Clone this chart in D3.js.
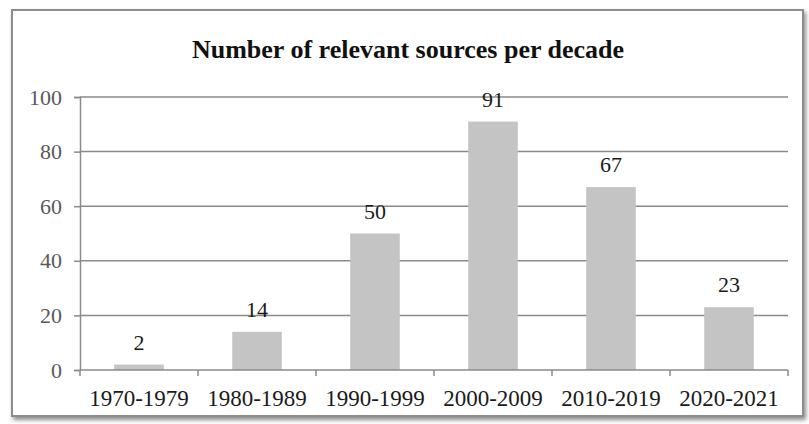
<!DOCTYPE html>
<html>
<head>
<meta charset="utf-8">
<script src="https://cdn.jsdelivr.net/npm/d3@7"></script>
<style>
  body { margin: 0; background: #fff; }
  svg { display: block; font-family: "Liberation Serif", "Times New Roman", serif; }
</style>
</head>
<body>
<svg id="chart" width="809" height="424"></svg>
<script>
// data
const decades = ['1970-1979', '1980-1989', '1990-1999', '2000-2009', '2010-2019', '2020-2021'];
const sources = [2, 14, 50, 91, 67, 23];
const yTicks = [0, 20, 40, 60, 80, 100];

const svg = d3.select('#chart');

// frame with a soft shadow at bottom/right
const defs = svg.append('defs');
const f = defs.append('filter').attr('id', 'shadow').attr('x', '-5%').attr('y', '-5%').attr('width', '110%').attr('height', '115%');
f.append('feDropShadow').attr('dx', 2).attr('dy', 3).attr('stdDeviation', 2).attr('flood-color', '#000').attr('flood-opacity', 0.45);

svg.append('rect')
    .attr('x', 12).attr('y', 10).attr('width', 791).attr('height', 406)
    .attr('fill', '#fff').attr('stroke', '#8c8c8c').attr('stroke-width', 2)
    .attr('filter', 'url(#shadow)');

const pLeft = 80, pRight = 788, pTop = 97, pBottom = 370;

const x = d3.scaleBand().domain(decades).range([pLeft, pRight]).paddingInner(0.58).paddingOuter(0.29);
const y = d3.scaleLinear().domain([0, 100]).range([pBottom, pTop]);

// gridlines
svg.append('g')
    .selectAll('line')
    .data(yTicks.filter(d => d > 0))
    .enter()
    .append('line')
    .attr('x1', pLeft).attr('x2', pRight)
    .attr('y1', d => y(d)).attr('y2', d => y(d))
    .attr('stroke', '#8a8a8a').attr('stroke-width', 1.5);

// y axis
const yAxis = svg.append('g')
    .attr('transform', `translate(${pLeft},0)`)
    .call(d3.axisLeft(y).tickValues(yTicks).tickSize(6).tickPadding(12));
yAxis.select('.domain').attr('stroke', '#8a8a8a').attr('stroke-width', 1.5);
yAxis.selectAll('.tick line').attr('stroke', '#8a8a8a').attr('stroke-width', 1.5);
yAxis.selectAll('text').attr('fill', '#595959').attr('font-size', 22).attr('font-family', '"Liberation Serif", serif');

// bars
svg.append('g')
    .selectAll('rect')
    .data(decades)
    .enter()
    .append('rect')
    .attr('x', d => x(d))
    .attr('width', x.bandwidth())
    .attr('y', (d, i) => y(sources[i]))
    .attr('height', (d, i) => y(0) - y(sources[i]))
    .attr('fill', '#c4c4c4');

// x axis, ticks between categories
const xb = d3.scaleLinear().domain([0, decades.length]).range([pLeft, pRight]);
const xAxis = svg.append('g').attr('transform', `translate(0,${pBottom})`);
xAxis.append('line').attr('x1', pLeft).attr('x2', pRight)
    .attr('stroke', '#8a8a8a').attr('stroke-width', 1.5);
xAxis.selectAll('line.tk')
    .data(d3.range(decades.length + 1))
    .enter()
    .append('line').attr('class', 'tk')
    .attr('x1', d => xb(d)).attr('x2', d => xb(d))
    .attr('y1', 0).attr('y2', 6)
    .attr('stroke', '#8a8a8a').attr('stroke-width', 1.5);
xAxis.selectAll('text')
    .data(decades)
    .enter()
    .append('text')
    .attr('x', d => x(d) + x.bandwidth() / 2)
    .attr('y', 36)
    .attr('text-anchor', 'middle')
    .attr('font-size', 23)
    .attr('fill', '#1a1a1a')
    .text(d => d);

// value labels
svg.append('g')
    .selectAll('text')
    .data(decades)
    .enter()
    .append('text')
    .attr('x', d => x(d) + x.bandwidth() / 2)
    .attr('y', (d, i) => y(sources[i]) - 15)
    .attr('text-anchor', 'middle')
    .attr('font-size', 22)
    .attr('fill', '#1a1a1a')
    .text((d, i) => sources[i]);

// title
svg.append('text')
    .attr('x', 408).attr('y', 58)
    .attr('text-anchor', 'middle')
    .attr('font-size', 26).attr('font-weight', 'bold')
    .attr('fill', '#111')
    .text('Number of relevant sources per decade');
</script>
</body>
</html>
